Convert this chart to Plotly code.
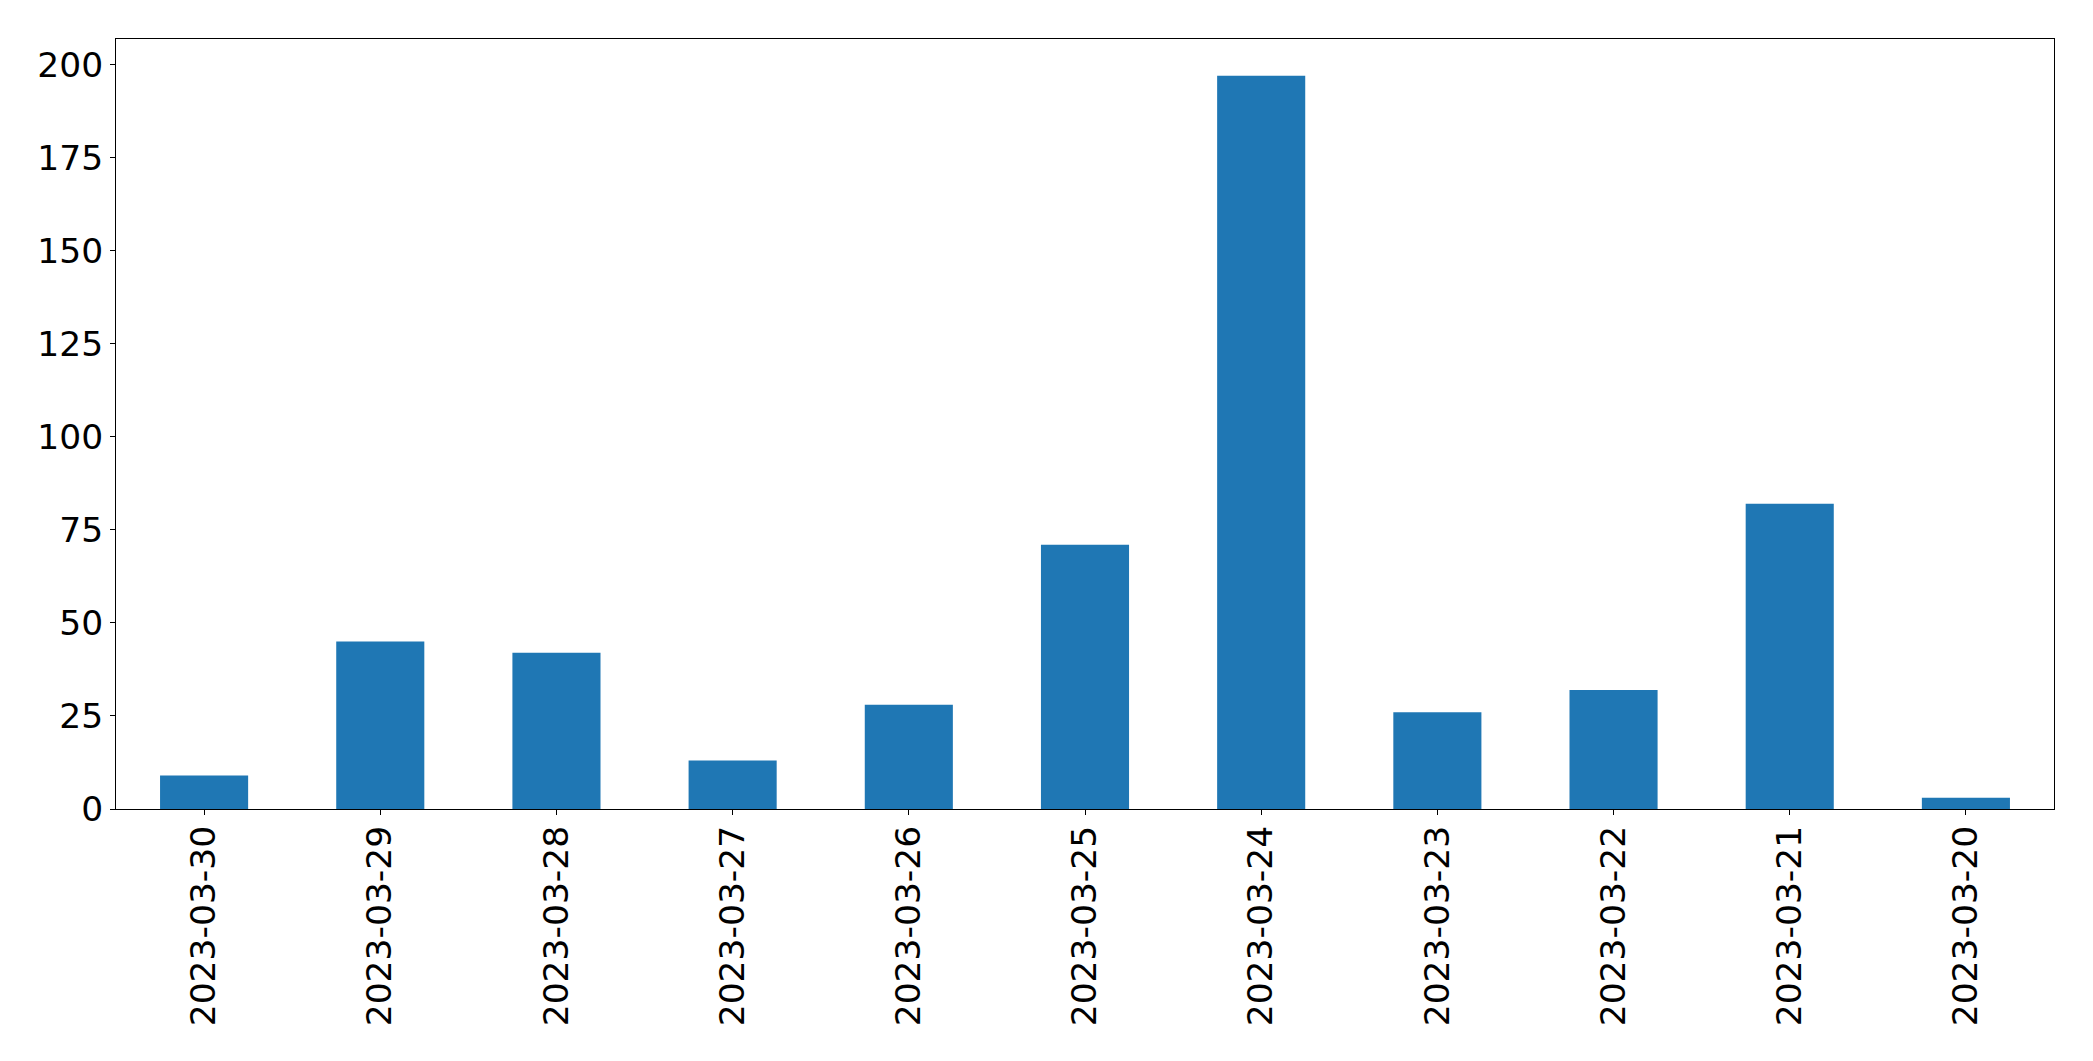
import plotly.graph_objects as go

dates = ["2023-03-30", "2023-03-29", "2023-03-28", "2023-03-27", "2023-03-26",
         "2023-03-25", "2023-03-24", "2023-03-23", "2023-03-22", "2023-03-21",
         "2023-03-20"]
counts = [9, 45, 42, 13, 28, 71, 197, 26, 32, 82, 3]
y_ticks = [0, 25, 50, 75, 100, 125, 150, 175, 200]

fig = go.Figure(go.Bar(x=dates, y=counts, marker=dict(color="#1f77b4", line=dict(width=0)),
                       width=0.5))

font = dict(family="DejaVu Sans", size=34.5, color="black")
fig.update_layout(
    width=2077, height=1045,
    margin=dict(l=108, r=31, t=31, b=244),
    plot_bgcolor="white", paper_bgcolor="white",
    showlegend=False,
    font=font,
)
fig.update_xaxes(
    type="category", categoryorder="array", categoryarray=dates,
    range=[-0.5, len(dates) - 0.5],
    tickangle=-90, tickfont=font, ticklabelstandoff=-3,
    showline=True, linecolor="black", linewidth=1, mirror=True,
    ticks="outside", ticklen=5, tickcolor="black", tickwidth=1,
    showgrid=False, zeroline=False,
)
fig.update_yaxes(
    range=[0, max(counts) * 1.05],
    tickvals=y_ticks, ticktext=[str(v) for v in y_ticks], tickfont=font,
    showline=True, linecolor="black", linewidth=1, mirror=True,
    ticks="outside", ticklen=5, tickcolor="black", tickwidth=1,
    showgrid=False, zeroline=False,
)
fig.write_html("out.html")
